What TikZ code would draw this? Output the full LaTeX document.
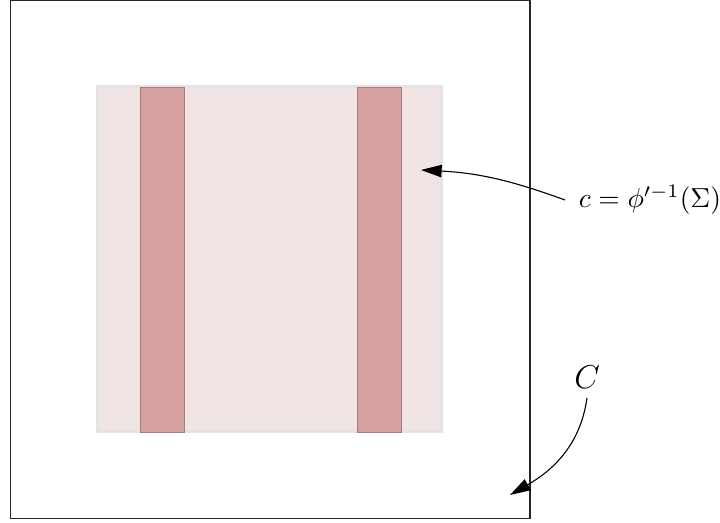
\documentclass[tikz,border=0pt]{standalone}
\usetikzlibrary{arrows.meta}

\definecolor{patchpink}{RGB}{240,228,229}
\definecolor{stripred}{RGB}{212,160,160}
\definecolor{stripedge}{RGB}{165,125,125}

\begin{document}
\begin{tikzpicture}[x=0.3636pt, y=-0.3636pt]
    \useasboundingbox (0,0) rectangle (720,523);
    % outer domain
    \draw[black!85] (10.5,0.5) rectangle (530,518.5);
    % patch and its two strips
    \draw[line width=1.2pt, draw=gray!22, fill=patchpink] (97.5,86.5) rectangle (441.5,431.5);
    \foreach \x in {140,357}
    \draw[stripedge, fill=stripred, line width=0.3pt] (\x,87) rectangle (\x+44,432);
    % labels with arrows
    \node (sigma) at (650,200) {$c = \phi'^{-1}(\Sigma)$};
    \node[font=\large] (Clabel) at (587,377) {$C$};
    \coordinate (sigmastart) at (565,200);
    \coordinate (patchpt) at (421,170);
    \coordinate (domainpt) at (510,495);
    \draw[-{Triangle[length=7.5pt,width=4.5pt]}] (sigmastart) to[out=160, in=-3] (patchpt); % arrow into patch
    \draw[-{Triangle[length=7.5pt,width=4.5pt]}] (Clabel.south) to[out=-98, in=30] (domainpt); % arrow into domain
\end{tikzpicture}
\end{document}
